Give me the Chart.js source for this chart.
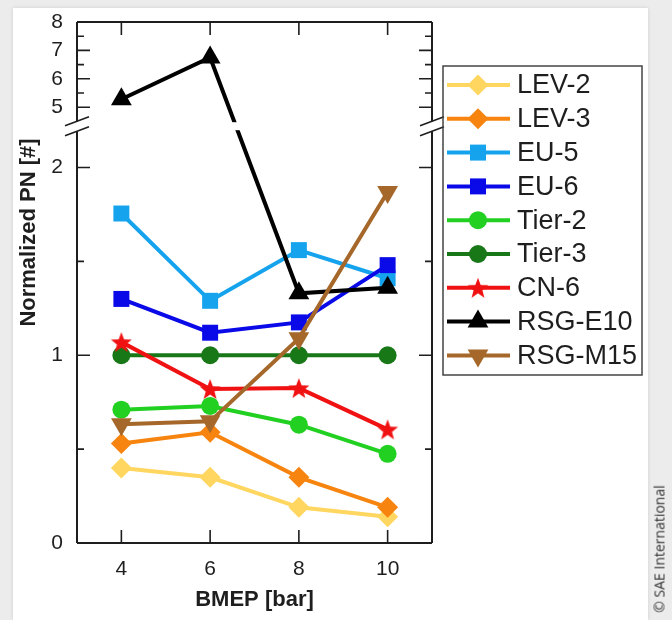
<!DOCTYPE html>
<html>
<head>
<meta charset="utf-8">
<script src="https://cdn.jsdelivr.net/npm/chart.js@4.4.0/dist/chart.umd.min.js"></script>
<style>
  html, body { margin: 0; padding: 0; }
  body { width: 672px; height: 620px; background: #ececec; position: relative; overflow: hidden; }
  #card { position: absolute; left: 13px; top: 8px; width: 635px; height: 612px; background: #fff; box-shadow: 0 0 4px rgba(0,0,0,0.12); }
  #wrap { position: absolute; left: 0; top: 0; width: 672px; height: 620px; }
  #credit { position: absolute; left: 659px; top: 549px; transform: translate(-50%, -50%) rotate(-90deg); white-space: nowrap;
            font-family: "Open Sans", sans-serif; font-size: 14px; color: #333; }
</style>
</head>
<body>
<div id="card"></div>
<div id="wrap"><canvas id="chart"></canvas></div>
<div id="credit">© SAE International</div>
<script>
// values (normalized PN vs BMEP)
const bmep = [4, 6, 8, 10];
const seriesNames = ['LEV-2', 'LEV-3', 'EU-5', 'EU-6', 'Tier-2', 'Tier-3', 'CN-6', 'RSG-E10', 'RSG-M15'];
const lev2 = [0.40, 0.35, 0.19, 0.14];
const lev3 = [0.53, 0.59, 0.35, 0.19];
const eu5 = [1.755, 1.29, 1.56, 1.41];
const eu6 = [1.30, 1.12, 1.175, 1.48];
const tier2 = [0.71, 0.73, 0.63, 0.475];
const tier3 = [1.0, 1.0, 1.0, 1.0];
const cn6 = [1.07, 0.82, 0.825, 0.605];
const rsgE10 = [5.28, 6.75, 1.33, 1.36];
const rsgM15 = [0.633, 0.648, 1.09, 1.87];

const xTicks = [4, 6, 8, 10];
const yTickLabels = [0, 1, 2, 5, 6, 7, 8];
const yMinorTicks = [0.5, 1.5, 5.5, 6.5, 7.5];
const yTitle = 'Normalized PN [#]';

// broken y axis: 0..BREAK_LOW uses the lower part, BREAK_HIGH..8 the upper part
const Y_MIN = 0, Y_MAX = 8;
const BREAK_LOW = 2.22, BREAK_HIGH = 4.33, BREAK_AT = 0.8;

const FONT = "'Liberation Sans', Arial, sans-serif";
const INK = '#1e1e1e';

function makeStar(color, size) {
    const c = document.createElement('canvas');
    c.width = c.height = size;
    const g = c.getContext('2d');
    const R = size / 2, r = R * 0.42;
    g.beginPath();
    for (let i = 0; i < 10; i++) {
        const a = -Math.PI / 2 + i * Math.PI / 5;
        const d = i % 2 ? r : R;
        g.lineTo(R + d * Math.cos(a), R + 1 + d * Math.sin(a));
    }
    g.closePath();
    g.fillStyle = color;
    g.fill();
    return c;
}

const styles = [
    { color: '#FFD660', pointStyle: 'rectRot', radius: 10.5 },
    { color: '#F7840F', pointStyle: 'rectRot', radius: 10.5 },
    { color: '#16A3EE', pointStyle: 'rect', radius: 11.3 },
    { color: '#0A0AE8', pointStyle: 'rect', radius: 11.3 },
    { color: '#22D022', pointStyle: 'circle', radius: 9 },
    { color: '#187818', pointStyle: 'circle', radius: 9 },
    { color: '#F01212', pointStyle: makeStar('#F01212', 22), radius: 11 },
    { color: '#000000', pointStyle: 'triangle', radius: 12 },
    { color: '#A5682A', pointStyle: 'triangle', radius: 12, rotation: 180 }
];
const seriesValues = [lev2, lev3, eu5, eu6, tier2, tier3, cn6, rsgE10, rsgM15];

function brokenFraction(v) {
    if (v <= BREAK_LOW) return (v - Y_MIN) / (BREAK_LOW - Y_MIN) * BREAK_AT;
    if (v >= BREAK_HIGH) return BREAK_AT + (v - BREAK_HIGH) / (Y_MAX - BREAK_HIGH) * (1 - BREAK_AT);
    return BREAK_AT;
}

function brokenValue(f) {
    if (f <= BREAK_AT) return Y_MIN + f / BREAK_AT * (BREAK_LOW - Y_MIN);
    return BREAK_HIGH + (f - BREAK_AT) / (1 - BREAK_AT) * (Y_MAX - BREAK_HIGH);
}

class BrokenScale extends Chart.LinearScale {
    getPixelForValue(value) {
        return this.getPixelForDecimal(brokenFraction(value));
    }
    getValueForPixel(pixel) {
        return brokenValue(this.getDecimalForPixel(pixel));
    }
}
BrokenScale.id = 'broken';
BrokenScale.defaults = Chart.LinearScale.defaults;
Chart.register(BrokenScale);

const datasets = seriesNames.map((name, i) => ({
    label: name,
    data: bmep.map((x, j) => ({ x: x, y: seriesValues[i][j] })),
    borderColor: styles[i].color,
    backgroundColor: styles[i].color,
    pointBackgroundColor: styles[i].color,
    pointBorderWidth: 0,
    pointStyle: styles[i].pointStyle,
    pointRadius: styles[i].radius,
    pointRotation: styles[i].rotation || 0,
    borderWidth: 4,
    tension: 0,
    order: -i
}));

// frame, inward ticks and the axis break
const framePlugin = {
    id: 'frame',
    afterDatasetsDraw(chart) {
        const { ctx, chartArea: a, scales: { x, y } } = chart;
        const bp = y.getPixelForValue((BREAK_LOW + BREAK_HIGH) / 2);
        ctx.save();
        ctx.fillStyle = '#fff';
        ctx.fillRect(a.left + 1, bp - 4, a.right - a.left - 2, 8);

        ctx.strokeStyle = INK;
        ctx.lineWidth = 2;
        ctx.beginPath();
        ctx.moveTo(a.left, a.top); ctx.lineTo(a.right, a.top);
        ctx.moveTo(a.left, a.bottom); ctx.lineTo(a.right, a.bottom);
        [a.left, a.right].forEach(ax => {
            ctx.moveTo(ax, a.bottom); ctx.lineTo(ax, bp + 5);
            ctx.moveTo(ax, bp - 5); ctx.lineTo(ax, a.top);
        });
        ctx.stroke();

        ctx.lineWidth = 1.6;
        ctx.beginPath();
        [a.left, a.right].forEach(ax => {
            [-5, 5].forEach(d => {
                ctx.moveTo(ax - 12, bp + d + 4.5);
                ctx.lineTo(ax + 12, bp + d - 4.5);
            });
        });
        xTicks.forEach(v => {
            const px = x.getPixelForValue(v);
            ctx.moveTo(px, a.bottom); ctx.lineTo(px, a.bottom - 13);
            ctx.moveTo(px, a.top); ctx.lineTo(px, a.top + 13);
        });
        const tick = (v, len) => {
            const py = y.getPixelForValue(v);
            ctx.moveTo(a.left, py); ctx.lineTo(a.left + len, py);
            ctx.moveTo(a.right, py); ctx.lineTo(a.right - len, py);
        };
        yTickLabels.forEach(v => tick(v, 13));
        yMinorTicks.forEach(v => tick(v, 7));
        ctx.stroke();

        // y title sits higher than the axis middle in the source figure
        ctx.translate(29, a.top + (a.bottom - a.top) * 0.404);
        ctx.rotate(-Math.PI / 2);
        ctx.fillStyle = INK;
        ctx.font = 'bold 22px ' + FONT;
        ctx.textAlign = 'center';
        ctx.textBaseline = 'middle';
        ctx.fillText(yTitle, 0, 0);
        ctx.restore();
    }
};

// boxed legend: line sample with marker, then label
const legendPlugin = {
    id: 'boxLegend',
    afterDraw(chart) {
        const { ctx, chartArea: a } = chart;
        const left = a.right + 11, top = 66, width = 199, height = 309, step = 33.8;
        ctx.save();
        ctx.strokeStyle = '#444';
        ctx.lineWidth = 1.5;
        ctx.strokeRect(left, top, width, height);
        chart.data.datasets.forEach((ds, i) => {
            const cy = top + 19 + i * step;
            ctx.strokeStyle = ds.borderColor;
            ctx.lineWidth = 4;
            ctx.beginPath();
            ctx.moveTo(left + 4, cy);
            ctx.lineTo(left + 67, cy);
            ctx.stroke();
            ctx.fillStyle = ds.pointBackgroundColor;
            Chart.helpers.drawPoint(ctx, {
                pointStyle: ds.pointStyle, radius: ds.pointRadius,
                rotation: ds.pointRotation, borderWidth: 0
            }, left + 35, cy);
            ctx.fillStyle = INK;
            ctx.font = '27px ' + FONT;
            ctx.textBaseline = 'middle';
            ctx.textAlign = 'left';
            ctx.fillText(ds.label, left + 74, cy + 1);
        });
        ctx.restore();
    }
};

Chart.defaults.font.family = FONT;
Chart.defaults.color = INK;

new Chart(document.getElementById('chart'), {
    type: 'line',
    data: { datasets: datasets },
    options: {
        responsive: true,
        maintainAspectRatio: false,
        animation: false,
        events: [],
        layout: { padding: { left: 0, top: 22, right: 240, bottom: 0 } },
        plugins: { legend: { display: false }, tooltip: { enabled: false } },
        scales: {
            x: {
                type: 'linear',
                min: 3,
                max: 11,
                grid: { display: false, drawTicks: false },
                border: { display: false },
                afterBuildTicks: s => { s.ticks = xTicks.map(v => ({ value: v })); },
                afterFit: s => { s.height = 77; },
                ticks: { padding: 14, font: { size: 21 }, color: INK },
                title: {
                    display: true, text: 'BMEP [bar]', color: INK,
                    font: { size: 22, weight: 'bold' }, padding: { top: 0, bottom: 7 }
                }
            },
            y: {
                type: 'broken',
                min: Y_MIN,
                max: Y_MAX,
                grid: { display: false, drawTicks: false },
                border: { display: false },
                afterBuildTicks: s => { s.ticks = yTickLabels.map(v => ({ value: v })); },
                afterFit: s => { s.width = 77; s.paddingTop = 0; s.paddingBottom = 0; },
                ticks: { padding: 14, font: { size: 21 }, color: INK, callback: v => String(v) },
                title: { display: false }
            }
        }
    },
    plugins: [framePlugin, legendPlugin]
});
</script>
</body>
</html>
